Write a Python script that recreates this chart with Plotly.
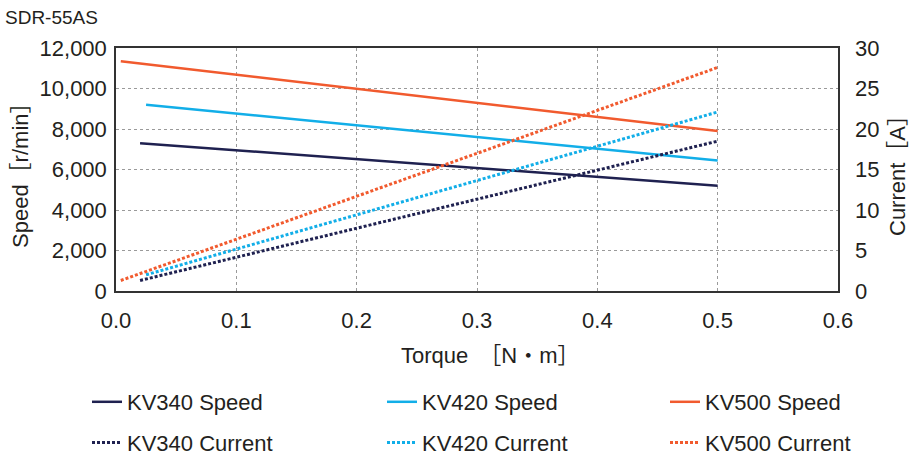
import plotly.graph_objects as go

# Data
torque_kv340 = [0.02, 0.5]
speed_kv340 = [7300, 5200]
current_kv340 = [1.3, 18.5]

torque_kv420 = [0.025, 0.5]
speed_kv420 = [9200, 6450]
current_kv420 = [2.0, 22.1]

torque_kv500 = [0.004, 0.5]
speed_kv500 = [11350, 7900]
current_kv500 = [1.3, 27.6]

series = [
    ("KV340", torque_kv340, speed_kv340, current_kv340, "#1f2150", "legend"),
    ("KV420", torque_kv420, speed_kv420, current_kv420, "#12aee8", "legend2"),
    ("KV500", torque_kv500, speed_kv500, current_kv500, "#f15a2e", "legend3"),
]

FONT = "Liberation Sans, Arial, Noto Sans CJK JP, sans-serif"
TXT = "#231f20"

fig = go.Figure()
for name, tq, sp, cu, col, lg in series:
    fig.add_trace(go.Scatter(
        x=tq, y=sp, mode="lines", name=f"{name} Speed",
        line=dict(color=col, width=2.5), legend=lg,
        legendgroup=f"{name}s", yaxis="y"))
for name, tq, sp, cu, col, lg in series:
    fig.add_trace(go.Scatter(
        x=tq, y=cu, mode="lines", name=f"{name} Current",
        line=dict(color=col, width=3, dash="3px,2px"), legend=lg,
        legendgroup=f"{name}c", yaxis="y2"))

L, R, T, B = 116, 76, 48, 170
W, H = 914, 461
pw = W - L - R
ph = H - T - B

def px_x(px):
    return (px - L) / pw

def px_y(py):
    return (H - B - py) / ph

legend_common = dict(
    orientation="v", xanchor="left", yanchor="top",
    font=dict(family=FONT, size=22, color=TXT),
    bgcolor="rgba(0,0,0,0)", tracegroupgap=9, itemwidth=30,
)

fig.update_layout(
    width=W, height=H,
    margin=dict(l=L, r=R, t=T, b=B, autoexpand=False),
    paper_bgcolor="white", plot_bgcolor="white",
    font=dict(family=FONT, size=22, color=TXT),
    title=dict(text="SDR-55AS", x=5 / W, xanchor="left", xref="container",
               y=1 - 17 / H, yanchor="middle", yref="container",
               font=dict(family=FONT, size=19, color=TXT)),
    xaxis=dict(range=[0, 0.6], dtick=0.1, tickformat=".1f",
               showgrid=True, gridcolor="#9a9a9a", griddash="dot", gridwidth=1,
               zeroline=False, showline=True, linecolor="#333333", linewidth=1.5,
               mirror=True, ticks="", ticklabelstandoff=9),
    yaxis=dict(range=[0, 12000], dtick=2000, tickformat=",d",
               showgrid=True, gridcolor="#9a9a9a", griddash="dot", gridwidth=1,
               zeroline=False, showline=True, linecolor="#333333", linewidth=1.5,
               mirror=True, ticks="", ticklabelstandoff=3),
    yaxis2=dict(range=[0, 30], dtick=5, overlaying="y", side="right",
                showgrid=False, zeroline=False, showline=False, ticks="",
                ticklabelstandoff=16),
    legend=dict(x=px_x(87), y=px_y(381), **legend_common),
    legend2=dict(x=px_x(382), y=px_y(381), **legend_common),
    legend3=dict(x=px_x(665), y=px_y(381), **legend_common),
    showlegend=True,
)

fig.add_annotation(text="Speed［r/min］", xref="paper", yref="paper",
                   x=px_x(20), y=px_y(170), textangle=-90, showarrow=False,
                   xanchor="center", yanchor="middle",
                   font=dict(family=FONT, size=22, color=TXT))
fig.add_annotation(text="Current［A］", xref="paper", yref="paper",
                   x=px_x(897), y=px_y(170), textangle=-90, showarrow=False,
                   xanchor="center", yanchor="middle",
                   font=dict(family=FONT, size=22, color=TXT))
fig.add_annotation(text="Torque　［N・m］", xref="paper", yref="paper",
                   x=px_x(490), y=px_y(355), showarrow=False,
                   xanchor="center", yanchor="middle",
                   font=dict(family=FONT, size=22, color=TXT))

fig.write_html("out.html", config={"displayModeBar": False},
               post_script="document.body.style.margin='0';document.body.style.padding='0';")
